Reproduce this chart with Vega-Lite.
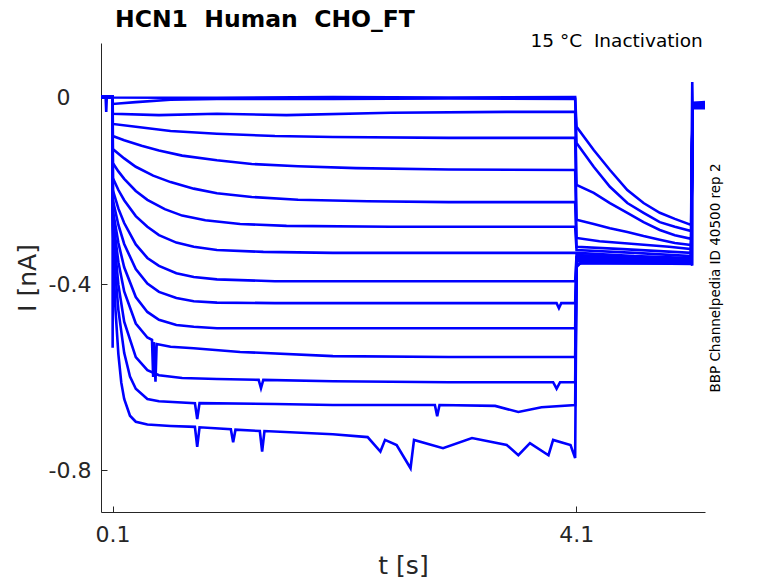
{
  "$schema": "https://vega.github.io/schema/vega-lite/v6.json",
  "width": 604,
  "height": 469,
  "autosize": {"type": "none"},
  "padding": {"left": 101, "top": 43, "right": 73, "bottom": 71},
  "background": "#ffffff",
  "config": {"view": {"stroke": null}, "font": "DejaVu Sans"},
  "title": {
    "text": "HCN1 \u00a0Human \u00a0CHO_FT",
    "anchor": "start",
    "frame": "group",
    "dx": 14,
    "offset": 0,
    "font": "DejaVu Sans",
    "fontSize": 23.5,
    "fontWeight": "bold",
    "color": "#000000"
  },
  "data": {
    "values": [
      {"s": "A", "t": 0, "i": 0.002}, {"s": "A", "t": 0.04, "i": 0.002}, {"s": "A", "t": 0.045, "i": -0.03}, {"s": "A", "t": 0.05, "i": 0.002},
      {"s": "A", "t": 0.1, "i": 0.002}, {"s": "A", "t": 0.102, "i": 0.001}, {"s": "A", "t": 1, "i": 0}, {"s": "A", "t": 2, "i": 0.002},
      {"s": "A", "t": 3, "i": 0.001}, {"s": "A", "t": 4.09, "i": 0.002},
      {"s": "A", "t": 4.102, "i": -0.062}, {"s": "A", "t": 4.25, "i": -0.112}, {"s": "A", "t": 4.39, "i": -0.155}, {"s": "A", "t": 4.54, "i": -0.198},
      {"s": "A", "t": 4.68, "i": -0.226}, {"s": "A", "t": 4.82, "i": -0.247}, {"s": "A", "t": 4.95, "i": -0.26}, {"s": "A", "t": 5.09, "i": -0.273},
      {"s": "A", "t": 5.1, "i": 0.034}, {"s": "A", "t": 5.103, "i": -0.013}, {"s": "A", "t": 5.21, "i": -0.011},

      {"s": "B", "t": 0, "i": 0.002}, {"s": "B", "t": 0.1, "i": 0.002}, {"s": "B", "t": 0.102, "i": -0.013}, {"s": "B", "t": 0.3, "i": -0.009},
      {"s": "B", "t": 0.6, "i": -0.004}, {"s": "B", "t": 1, "i": -0.002}, {"s": "B", "t": 2, "i": -0.002}, {"s": "B", "t": 3, "i": -0.001},
      {"s": "B", "t": 4.09, "i": -0.002},
      {"s": "B", "t": 4.102, "i": -0.097}, {"s": "B", "t": 4.25, "i": -0.148}, {"s": "B", "t": 4.39, "i": -0.191}, {"s": "B", "t": 4.54, "i": -0.226},
      {"s": "B", "t": 4.68, "i": -0.247}, {"s": "B", "t": 4.82, "i": -0.267}, {"s": "B", "t": 4.95, "i": -0.277}, {"s": "B", "t": 5.09, "i": -0.286},
      {"s": "B", "t": 5.103, "i": -0.017}, {"s": "B", "t": 5.21, "i": -0.015},

      {"s": "C", "t": 0, "i": 0.002}, {"s": "C", "t": 0.1, "i": 0.002}, {"s": "C", "t": 0.102, "i": -0.034}, {"s": "C", "t": 0.5, "i": -0.037},
      {"s": "C", "t": 1, "i": -0.034}, {"s": "C", "t": 1.6, "i": -0.037}, {"s": "C", "t": 2.5, "i": -0.032}, {"s": "C", "t": 3.5, "i": -0.03},
      {"s": "C", "t": 4.09, "i": -0.03},
      {"s": "C", "t": 4.102, "i": -0.187}, {"s": "C", "t": 4.25, "i": -0.204}, {"s": "C", "t": 4.39, "i": -0.226}, {"s": "C", "t": 4.54, "i": -0.247},
      {"s": "C", "t": 4.68, "i": -0.267}, {"s": "C", "t": 4.82, "i": -0.284}, {"s": "C", "t": 4.95, "i": -0.295}, {"s": "C", "t": 5.09, "i": -0.303},
      {"s": "C", "t": 5.103, "i": -0.019}, {"s": "C", "t": 5.21, "i": -0.017},

      {"s": "D", "t": 0, "i": 0.002}, {"s": "D", "t": 0.1, "i": 0.002}, {"s": "D", "t": 0.102, "i": -0.056}, {"s": "D", "t": 0.3, "i": -0.062},
      {"s": "D", "t": 0.6, "i": -0.071}, {"s": "D", "t": 1, "i": -0.077}, {"s": "D", "t": 1.5, "i": -0.082}, {"s": "D", "t": 2, "i": -0.084},
      {"s": "D", "t": 3, "i": -0.086}, {"s": "D", "t": 4.09, "i": -0.086},
      {"s": "D", "t": 4.102, "i": -0.262}, {"s": "D", "t": 4.25, "i": -0.271}, {"s": "D", "t": 4.39, "i": -0.28}, {"s": "D", "t": 4.54, "i": -0.288},
      {"s": "D", "t": 4.68, "i": -0.297}, {"s": "D", "t": 4.82, "i": -0.305}, {"s": "D", "t": 4.95, "i": -0.312}, {"s": "D", "t": 5.09, "i": -0.316},
      {"s": "D", "t": 5.103, "i": -0.011}, {"s": "D", "t": 5.21, "i": -0.009},

      {"s": "E", "t": 0, "i": 0.002}, {"s": "E", "t": 0.1, "i": 0.002}, {"s": "E", "t": 0.102, "i": -0.082}, {"s": "E", "t": 0.2, "i": -0.091},
      {"s": "E", "t": 0.35, "i": -0.103}, {"s": "E", "t": 0.5, "i": -0.113}, {"s": "E", "t": 0.7, "i": -0.124}, {"s": "E", "t": 1, "i": -0.134},
      {"s": "E", "t": 1.3, "i": -0.142}, {"s": "E", "t": 1.7, "i": -0.147}, {"s": "E", "t": 2.2, "i": -0.151}, {"s": "E", "t": 3, "i": -0.154},
      {"s": "E", "t": 4.09, "i": -0.155},
      {"s": "E", "t": 4.102, "i": -0.301}, {"s": "E", "t": 4.3, "i": -0.308}, {"s": "E", "t": 4.6, "i": -0.314}, {"s": "E", "t": 4.9, "i": -0.32},
      {"s": "E", "t": 5.09, "i": -0.325}, {"s": "E", "t": 5.103, "i": -0.022}, {"s": "E", "t": 5.21, "i": -0.022},

      {"s": "F", "t": 0, "i": 0.002}, {"s": "F", "t": 0.1, "i": 0.002}, {"s": "F", "t": 0.102, "i": -0.11}, {"s": "F", "t": 0.2, "i": -0.13},
      {"s": "F", "t": 0.3, "i": -0.148}, {"s": "F", "t": 0.45, "i": -0.167}, {"s": "F", "t": 0.6, "i": -0.181}, {"s": "F", "t": 0.8, "i": -0.195},
      {"s": "F", "t": 1, "i": -0.205}, {"s": "F", "t": 1.3, "i": -0.213}, {"s": "F", "t": 1.7, "i": -0.219}, {"s": "F", "t": 2.3, "i": -0.222},
      {"s": "F", "t": 3, "i": -0.224}, {"s": "F", "t": 4.09, "i": -0.224},
      {"s": "F", "t": 4.102, "i": -0.32}, {"s": "F", "t": 4.5, "i": -0.325}, {"s": "F", "t": 5.09, "i": -0.333},
      {"s": "F", "t": 5.103, "i": -0.015}, {"s": "F", "t": 5.21, "i": -0.013},

      {"s": "G", "t": 0, "i": 0.002}, {"s": "G", "t": 0.1, "i": 0.002}, {"s": "G", "t": 0.102, "i": -0.14}, {"s": "G", "t": 0.15, "i": -0.158},
      {"s": "G", "t": 0.2, "i": -0.174}, {"s": "G", "t": 0.3, "i": -0.2}, {"s": "G", "t": 0.4, "i": -0.219}, {"s": "G", "t": 0.55, "i": -0.239},
      {"s": "G", "t": 0.7, "i": -0.253}, {"s": "G", "t": 0.9, "i": -0.263}, {"s": "G", "t": 1.2, "i": -0.271}, {"s": "G", "t": 1.6, "i": -0.275},
      {"s": "G", "t": 2.5, "i": -0.277}, {"s": "G", "t": 4.09, "i": -0.277},
      {"s": "G", "t": 4.102, "i": -0.327}, {"s": "G", "t": 4.6, "i": -0.333}, {"s": "G", "t": 5.09, "i": -0.34},
      {"s": "G", "t": 5.103, "i": -0.017}, {"s": "G", "t": 5.21, "i": -0.017},

      {"s": "H", "t": 0, "i": 0.002}, {"s": "H", "t": 0.1, "i": 0.002}, {"s": "H", "t": 0.102, "i": -0.172}, {"s": "H", "t": 0.15, "i": -0.198},
      {"s": "H", "t": 0.2, "i": -0.22}, {"s": "H", "t": 0.3, "i": -0.254}, {"s": "H", "t": 0.4, "i": -0.277}, {"s": "H", "t": 0.5, "i": -0.295},
      {"s": "H", "t": 0.65, "i": -0.311}, {"s": "H", "t": 0.8, "i": -0.32}, {"s": "H", "t": 1, "i": -0.327}, {"s": "H", "t": 1.4, "i": -0.331},
      {"s": "H", "t": 2, "i": -0.333}, {"s": "H", "t": 4.09, "i": -0.333},
      {"s": "H", "t": 4.102, "i": -0.333}, {"s": "H", "t": 4.6, "i": -0.34}, {"s": "H", "t": 5.09, "i": -0.344},
      {"s": "H", "t": 5.103, "i": -0.013}, {"s": "H", "t": 5.21, "i": -0.013},

      {"s": "I", "t": 0, "i": 0.002}, {"s": "I", "t": 0.1, "i": 0.002}, {"s": "I", "t": 0.102, "i": -0.198}, {"s": "I", "t": 0.15, "i": -0.238},
      {"s": "I", "t": 0.2, "i": -0.269}, {"s": "I", "t": 0.3, "i": -0.315}, {"s": "I", "t": 0.4, "i": -0.344}, {"s": "I", "t": 0.5, "i": -0.361},
      {"s": "I", "t": 0.65, "i": -0.377}, {"s": "I", "t": 0.8, "i": -0.385}, {"s": "I", "t": 1, "i": -0.39}, {"s": "I", "t": 1.5, "i": -0.394},
      {"s": "I", "t": 4.09, "i": -0.394},
      {"s": "I", "t": 4.102, "i": -0.338}, {"s": "I", "t": 5.09, "i": -0.346}, {"s": "I", "t": 5.103, "i": -0.019}, {"s": "I", "t": 5.21, "i": -0.019},

      {"s": "J", "t": 0, "i": 0.002}, {"s": "J", "t": 0.1, "i": 0.002}, {"s": "J", "t": 0.102, "i": -0.219}, {"s": "J", "t": 0.15, "i": -0.273},
      {"s": "J", "t": 0.2, "i": -0.314}, {"s": "J", "t": 0.3, "i": -0.368}, {"s": "J", "t": 0.4, "i": -0.399}, {"s": "J", "t": 0.5, "i": -0.417},
      {"s": "J", "t": 0.65, "i": -0.43}, {"s": "J", "t": 0.8, "i": -0.437}, {"s": "J", "t": 1, "i": -0.44}, {"s": "J", "t": 1.5, "i": -0.441},
      {"s": "J", "t": 3.5, "i": -0.441}, {"s": "J", "t": 3.93, "i": -0.441}, {"s": "J", "t": 3.95, "i": -0.452}, {"s": "J", "t": 3.97, "i": -0.441},
      {"s": "J", "t": 4.09, "i": -0.441},
      {"s": "J", "t": 4.102, "i": -0.342}, {"s": "J", "t": 5.09, "i": -0.348}, {"s": "J", "t": 5.103, "i": -0.011}, {"s": "J", "t": 5.21, "i": -0.011},

      {"s": "K", "t": 0, "i": 0.002}, {"s": "K", "t": 0.1, "i": 0.002}, {"s": "K", "t": 0.102, "i": -0.241}, {"s": "K", "t": 0.15, "i": -0.312},
      {"s": "K", "t": 0.2, "i": -0.364}, {"s": "K", "t": 0.3, "i": -0.428}, {"s": "K", "t": 0.4, "i": -0.46}, {"s": "K", "t": 0.5, "i": -0.477},
      {"s": "K", "t": 0.65, "i": -0.488}, {"s": "K", "t": 0.8, "i": -0.492}, {"s": "K", "t": 1, "i": -0.495}, {"s": "K", "t": 4.09, "i": -0.495},
      {"s": "K", "t": 4.102, "i": -0.344}, {"s": "K", "t": 5.09, "i": -0.351}, {"s": "K", "t": 5.103, "i": -0.015}, {"s": "K", "t": 5.21, "i": -0.015},

      {"s": "L", "t": 0, "i": 0.002}, {"s": "L", "t": 0.1, "i": 0.002}, {"s": "L", "t": 0.102, "i": -0.258}, {"s": "L", "t": 0.15, "i": -0.353},
      {"s": "L", "t": 0.2, "i": -0.416}, {"s": "L", "t": 0.3, "i": -0.485}, {"s": "L", "t": 0.4, "i": -0.515}, {"s": "L", "t": 0.44, "i": -0.52},
      {"s": "L", "t": 0.45, "i": -0.6}, {"s": "L", "t": 0.455, "i": -0.525}, {"s": "L", "t": 0.47, "i": -0.61}, {"s": "L", "t": 0.48, "i": -0.529},
      {"s": "L", "t": 0.6, "i": -0.535}, {"s": "L", "t": 0.8, "i": -0.538}, {"s": "L", "t": 1.2, "i": -0.546}, {"s": "L", "t": 2, "i": -0.555},
      {"s": "L", "t": 3, "i": -0.557}, {"s": "L", "t": 4.09, "i": -0.557},
      {"s": "L", "t": 4.102, "i": -0.348}, {"s": "L", "t": 5.09, "i": -0.353}, {"s": "L", "t": 5.103, "i": -0.019}, {"s": "L", "t": 5.21, "i": -0.019},

      {"s": "M", "t": 0, "i": 0.002}, {"s": "M", "t": 0.1, "i": 0.002}, {"s": "M", "t": 0.102, "i": -0.273}, {"s": "M", "t": 0.15, "i": -0.402},
      {"s": "M", "t": 0.2, "i": -0.481}, {"s": "M", "t": 0.3, "i": -0.557}, {"s": "M", "t": 0.4, "i": -0.585}, {"s": "M", "t": 0.5, "i": -0.596},
      {"s": "M", "t": 0.7, "i": -0.602}, {"s": "M", "t": 1, "i": -0.604}, {"s": "M", "t": 1.36, "i": -0.606}, {"s": "M", "t": 1.38, "i": -0.624},
      {"s": "M", "t": 1.4, "i": -0.606}, {"s": "M", "t": 2, "i": -0.609}, {"s": "M", "t": 3, "i": -0.611}, {"s": "M", "t": 3.9, "i": -0.611},
      {"s": "M", "t": 3.93, "i": -0.625}, {"s": "M", "t": 3.96, "i": -0.611}, {"s": "M", "t": 4.09, "i": -0.611},
      {"s": "M", "t": 4.102, "i": -0.351}, {"s": "M", "t": 5.09, "i": -0.355}, {"s": "M", "t": 5.103, "i": -0.013}, {"s": "M", "t": 5.21, "i": -0.013},

      {"s": "N", "t": 0, "i": 0.002}, {"s": "N", "t": 0.1, "i": 0.002}, {"s": "N", "t": 0.102, "i": -0.284}, {"s": "N", "t": 0.12, "i": -0.366},
      {"s": "N", "t": 0.15, "i": -0.456}, {"s": "N", "t": 0.2, "i": -0.548}, {"s": "N", "t": 0.25, "i": -0.599}, {"s": "N", "t": 0.3, "i": -0.625},
      {"s": "N", "t": 0.4, "i": -0.647}, {"s": "N", "t": 0.5, "i": -0.652}, {"s": "N", "t": 0.81, "i": -0.656}, {"s": "N", "t": 0.83, "i": -0.69},
      {"s": "N", "t": 0.85, "i": -0.656}, {"s": "N", "t": 1.5, "i": -0.658}, {"s": "N", "t": 2, "i": -0.66}, {"s": "N", "t": 2.88, "i": -0.66},
      {"s": "N", "t": 2.9, "i": -0.684}, {"s": "N", "t": 2.92, "i": -0.66}, {"s": "N", "t": 3.4, "i": -0.662}, {"s": "N", "t": 3.6, "i": -0.675},
      {"s": "N", "t": 3.8, "i": -0.665}, {"s": "N", "t": 4.09, "i": -0.66},
      {"s": "N", "t": 4.102, "i": -0.36}, {"s": "N", "t": 4.15, "i": -0.354}, {"s": "N", "t": 5.09, "i": -0.357}, {"s": "N", "t": 5.103, "i": -0.017},
      {"s": "N", "t": 5.21, "i": -0.017},

      {"s": "O", "t": 0, "i": 0.002}, {"s": "O", "t": 0.1, "i": 0.002}, {"s": "O", "t": 0.1005, "i": -0.537}, {"s": "O", "t": 0.102, "i": -0.295},
      {"s": "O", "t": 0.11, "i": -0.368}, {"s": "O", "t": 0.125, "i": -0.456}, {"s": "O", "t": 0.15, "i": -0.551}, {"s": "O", "t": 0.175, "i": -0.612},
      {"s": "O", "t": 0.2, "i": -0.647}, {"s": "O", "t": 0.25, "i": -0.683}, {"s": "O", "t": 0.3, "i": -0.696}, {"s": "O", "t": 0.4, "i": -0.702},
      {"s": "O", "t": 0.6, "i": -0.705}, {"s": "O", "t": 0.81, "i": -0.707}, {"s": "O", "t": 0.83, "i": -0.75}, {"s": "O", "t": 0.85, "i": -0.708},
      {"s": "O", "t": 1.12, "i": -0.712}, {"s": "O", "t": 1.14, "i": -0.74}, {"s": "O", "t": 1.16, "i": -0.713}, {"s": "O", "t": 1.37, "i": -0.716},
      {"s": "O", "t": 1.39, "i": -0.76}, {"s": "O", "t": 1.41, "i": -0.716}, {"s": "O", "t": 2, "i": -0.723}, {"s": "O", "t": 2.3, "i": -0.729},
      {"s": "O", "t": 2.41, "i": -0.76}, {"s": "O", "t": 2.45, "i": -0.735}, {"s": "O", "t": 2.55, "i": -0.746}, {"s": "O", "t": 2.67, "i": -0.796},
      {"s": "O", "t": 2.7, "i": -0.735}, {"s": "O", "t": 2.95, "i": -0.753}, {"s": "O", "t": 3.2, "i": -0.731}, {"s": "O", "t": 3.5, "i": -0.746},
      {"s": "O", "t": 3.6, "i": -0.768}, {"s": "O", "t": 3.7, "i": -0.742}, {"s": "O", "t": 3.86, "i": -0.768}, {"s": "O", "t": 3.9, "i": -0.735},
      {"s": "O", "t": 4.05, "i": -0.746}, {"s": "O", "t": 4.09, "i": -0.774},
      {"s": "O", "t": 4.102, "i": -0.364}, {"s": "O", "t": 4.13, "i": -0.356}, {"s": "O", "t": 5.09, "i": -0.355}, {"s": "O", "t": 5.1, "i": -0.36},
      {"s": "O", "t": 5.103, "i": -0.015}, {"s": "O", "t": 5.21, "i": -0.015}
    ]
  },
  "resolve": {"axis": {"x": "independent", "y": "independent"}},
  "layer": [
    {
      "mark": {"type": "line", "color": "#0000ff", "strokeWidth": 2.6, "clip": true},
      "encoding": {
        "x": {
          "field": "t",
          "type": "quantitative",
          "scale": {"domain": [0, 5.21], "nice": false, "zero": false},
          "axis": {
            "values": [0.1, 4.1],
            "format": ".1f",
            "title": "t [s]",
            "grid": false,
            "tickSize": -6,
            "labelPadding": 18,
            "labelFontSize": 22,
            "labelFont": "DejaVu Sans",
            "labelColor": "#262626",
            "labelFlush": false,
            "titleFontSize": 25,
            "titleFont": "DejaVu Sans",
            "titleFontWeight": "normal",
            "titleColor": "#262626",
            "titlePadding": 8,
            "domainColor": "#262626",
            "tickColor": "#262626"
          }
        },
        "y": {
          "field": "i",
          "type": "quantitative",
          "scale": {"domain": [-0.89, 0.118], "nice": false, "zero": false},
          "axis": {
            "orient": "left",
            "values": [0, -0.4, -0.8],
            "labelExpr": "datum.value == 0 ? '0\u00a0\u00a0\u00a0\u200b' : (datum.value < -0.6 ? '-0.8' : '-0.4')",
            "title": "I [nA]",
            "grid": false,
            "tickSize": -6,
            "labelPadding": 16,
            "labelFontSize": 22,
            "labelFont": "DejaVu Sans",
            "labelColor": "#262626",
            "labelFlush": false,
            "titleFontSize": 25,
            "titleFont": "DejaVu Sans",
            "titleFontWeight": "normal",
            "titleColor": "#262626",
            "titlePadding": 8,
            "domainColor": "#262626",
            "tickColor": "#262626"
          }
        },
        "detail": {"field": "s", "type": "nominal"}
      }
    },
    {
      "data": {"values": [{"label": "15 °C \u00a0Inactivation"}]},
      "mark": {"type": "text", "align": "right", "baseline": "alphabetic", "font": "DejaVu Sans", "fontSize": 18.5, "color": "#000000"},
      "encoding": {
        "x": {"datum": 5.19, "type": "quantitative", "axis": null},
        "y": {
          "datum": 0.11,
          "type": "quantitative",
          "axis": {
            "orient": "right",
            "title": "BBP Channelpedia ID 40500 rep 2",
            "labels": false,
            "ticks": false,
            "domain": false,
            "grid": false,
            "titleAngle": 270,
            "titleFont": "DejaVu Sans",
            "titleFontSize": 13.5,
            "titleFontWeight": "normal",
            "titleColor": "#000000",
            "titlePadding": 17
          }
        },
        "text": {"field": "label"}
      }
    }
  ]
}
